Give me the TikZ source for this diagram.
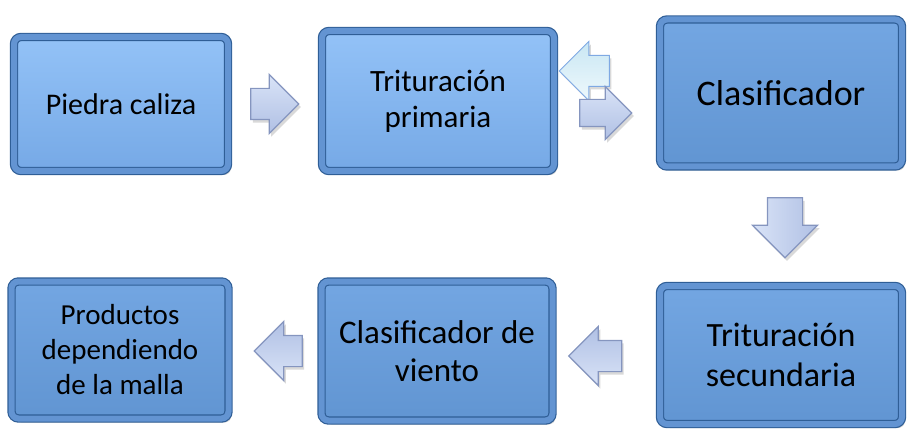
\documentclass[tikz,border=0pt]{standalone}
\usepackage{fontspec}
\setmainfont{Carlito}
\usetikzlibrary{shapes.arrows,shadows}

\definecolor{bordeazul}{HTML}{2F5E96}
\definecolor{ribete}{HTML}{6394D2}
\definecolor{claroarriba}{HTML}{93C2F7}
\definecolor{claroabajo}{HTML}{76A9E6}
\definecolor{medioarriba}{HTML}{73A6E2}
\definecolor{medioabajo}{HTML}{6195D2}
\definecolor{flechaborde}{HTML}{8595BF}
\definecolor{flechaclara}{HTML}{D9E3F7}
\definecolor{flechaoscura}{HTML}{B0C0E4}
\definecolor{retornoborde}{HTML}{7FA9E3}
\definecolor{retornoclaro}{HTML}{EEF8FC}
\definecolor{retornooscuro}{HTML}{C9E7F3}

\tikzset{
  etapa/.style={rectangle, rounded corners=7pt, draw=bordeazul, double=ribete,
    double distance=6pt, line width=1.2pt, top color=medioarriba, bottom color=medioabajo,
    drop shadow={shadow xshift=3pt, shadow yshift=-4pt, opacity=0.35},
    align=center, inner sep=0pt, font=\fontsize{31}{36}\selectfont},
  etapaclara/.style={etapa, top color=claroarriba, bottom color=claroabajo},
  flecha/.style={single arrow, single arrow head extend=14pt, inner xsep=0pt, inner ysep=15pt,
    minimum height=48pt, draw=flechaborde, line width=1.2pt,
    top color=flechaclara, bottom color=flechaoscura,
    drop shadow={shadow xshift=2pt, shadow yshift=-3pt, opacity=0.3}},
  izquierda/.style={rotate=180, shading angle=180},
  abajo/.style={rotate=-90, shading angle=90},
  retorno/.style={flecha, line width=1pt, draw=retornoborde, top color=retornoclaro,
    bottom color=retornooscuro, drop shadow={opacity=0}}
}

\begin{document}
\begin{tikzpicture}[x=1pt,y=1pt]
\useasboundingbox (0,0) rectangle (910,437);

% etapas del proceso
\node[etapaclara, minimum width=214pt, minimum height=134pt, font=\fontsize{30}{36}\selectfont] (piedra) at (121,333) {Piedra caliza};
\node[etapaclara, minimum width=232pt, minimum height=140pt] (primaria) at (438,336) {Trituración\\primaria};
\node[etapa, minimum width=242pt, minimum height=147pt, font=\fontsize{36}{42}\selectfont] (clasif) at (781,344) {Clasificador};
\node[etapa, minimum width=242pt, minimum height=138pt, font=\fontsize{34}{40}\selectfont] (secundaria) at (781,82) {Trituración\\secundaria};
\node[etapa, minimum width=231pt, minimum height=139pt, font=\fontsize{33}{38}\selectfont] (viento) at (437,86) {Clasificador de\\viento};
\node[etapa, minimum width=217pt, minimum height=137pt, font=\fontsize{29}{35}\selectfont] (productos) at (120,87) {Productos\\dependiendo\\de la malla};

% flechas de bloque
\node[flecha] (f1) at (267,333) {};
\node[retorno, minimum height=50pt, izquierda] (f2) at (592,366) {};
\node[flecha, minimum height=52pt, inner ysep=13pt, single arrow head extend=13pt] (f3) at (599,324) {};
\node[flecha, minimum height=60pt, inner ysep=17pt, single arrow head extend=15pt, abajo] (f4) at (785,218) {};
\node[flecha, minimum height=53pt, izquierda] (f5) at (603,81) {};
\node[flecha, izquierda] (f6) at (286,86) {};
\end{tikzpicture}
\end{document}
